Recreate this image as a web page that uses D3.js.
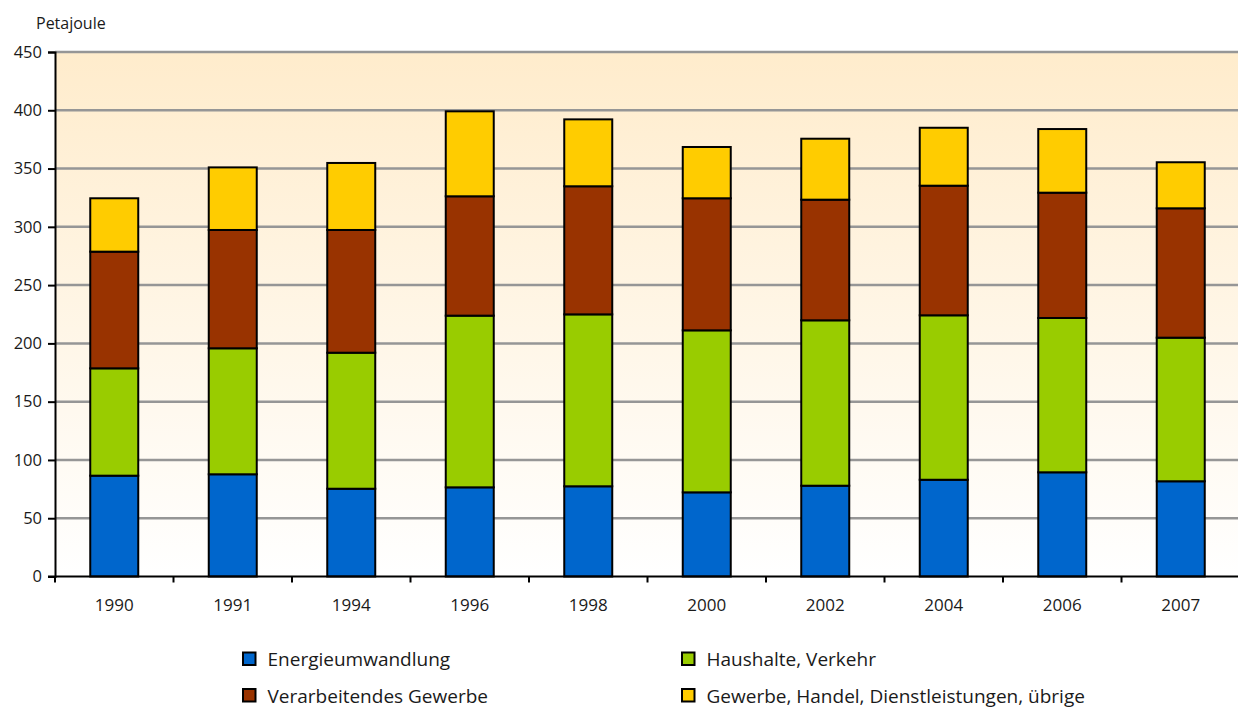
<!DOCTYPE html>
<html>
<head>
<meta charset="utf-8">
<script src="https://cdn.jsdelivr.net/npm/d3@7"></script>
<style>
  html, body { margin: 0; padding: 0; background: #ffffff; }
  svg { display: block; font-family: "Open Sans", "Noto Sans", sans-serif; }
</style>
</head>
<body>
<svg id="chart" width="1238" height="707"></svg>
<script>
// Energy consumption by sector, Petajoule
const years = ["1990", "1991", "1994", "1996", "1998", "2000", "2002", "2004", "2006", "2007"];
const energieumwandlung = [86.5, 87.7, 75.3, 76.5, 77.4, 72.2, 77.9, 83.0, 89.4, 81.7];
const haushalteVerkehr = [92.1, 108.1, 116.7, 147.3, 147.5, 139.0, 141.9, 141.1, 132.4, 123.2];
const verarbeitendesGewerbe = [100.1, 101.5, 105.3, 102.4, 109.9, 113.3, 103.5, 111.2, 107.5, 111.0];
const gewerbeHandel = [45.8, 53.7, 57.5, 72.9, 57.4, 44.0, 52.3, 49.7, 54.6, 39.5];
const seriesNames = ["Energieumwandlung", "Haushalte, Verkehr", "Verarbeitendes Gewerbe", "Gewerbe, Handel, Dienstleistungen, übrige"];
const seriesColors = ["#0066CC", "#99CC00", "#993300", "#FFCC00"];
const yTicks = [0, 50, 100, 150, 200, 250, 300, 350, 400, 450];

const seriesValues = [energieumwandlung, haushalteVerkehr, verarbeitendesGewerbe, gewerbeHandel];
const keys = ["s0", "s1", "s2", "s3"];
const rows = years.map((y, i) => {
  const r = { year: y };
  keys.forEach((k, j) => r[k] = seriesValues[j][i]);
  return r;
});

const svg = d3.select("#chart");
const plot = { left: 55, right: 1240, top: 52, bottom: 576.5 };
const FONT = "'Open Sans', 'Noto Sans', sans-serif";
const TEXT = "#1a1a1a";

const x = d3.scaleBand().domain(years).range([plot.left, plot.right]).paddingInner(0.595).paddingOuter(0.2975);
const xBounds = d3.scaleBand().domain(years).range([plot.left, plot.right]);
const y = d3.scaleLinear().domain([0, 450]).range([plot.bottom, plot.top]);

// background gradient of the plot area
const defs = svg.append("defs");
const grad = defs.append("linearGradient").attr("id", "bg").attr("x1", 0).attr("y1", 0).attr("x2", 0).attr("y2", 1);
grad.append("stop").attr("offset", "0%").attr("stop-color", "#FFECCC");
grad.append("stop").attr("offset", "100%").attr("stop-color", "#FFFFFF");
svg.append("rect")
  .attr("x", plot.left).attr("y", plot.top)
  .attr("width", plot.right - plot.left).attr("height", plot.bottom - plot.top)
  .attr("fill", "url(#bg)");

// horizontal gridlines
svg.append("g").selectAll("line").data(yTicks.filter(d => d > 0)).join("line")
  .attr("x1", plot.left).attr("x2", plot.right)
  .attr("y1", d => y(d)).attr("y2", d => y(d))
  .attr("stroke", "#969696").attr("stroke-width", 2.5);

// stacked bars
const stacked = d3.stack().keys(keys)(rows);
svg.append("g").selectAll("g").data(stacked).join("g")
  .attr("fill", (d, i) => seriesColors[i])
  .selectAll("rect").data(d => d).join("rect")
  .attr("x", d => x(d.data.year))
  .attr("width", x.bandwidth())
  .attr("y", d => y(d[1]))
  .attr("height", d => y(d[0]) - y(d[1]))
  .attr("stroke", "#000").attr("stroke-width", 2);

// y axis
const yAxis = d3.axisLeft(y).tickValues(yTicks).tickSize(7).tickPadding(6);
const gy = svg.append("g").attr("transform", `translate(${plot.left},0)`).call(yAxis);
gy.attr("font-family", FONT).attr("font-size", 16.5);
gy.select(".domain").attr("stroke", "#000").attr("stroke-width", 2);
gy.selectAll(".tick line").attr("stroke", "#000").attr("stroke-width", 2);
gy.selectAll(".tick text").attr("fill", TEXT);

// x axis with ticks at category boundaries
const gx = svg.append("g").attr("transform", `translate(0,${plot.bottom})`);
gx.append("line").attr("x1", plot.left - 7).attr("x2", plot.right)
  .attr("stroke", "#000").attr("stroke-width", 2);
const bounds = years.map(d => xBounds(d));
gx.selectAll(".bt").data(bounds).join("line")
  .attr("x1", d => d).attr("x2", d => d).attr("y1", 0).attr("y2", 6)
  .attr("stroke", "#000").attr("stroke-width", 2);
gx.selectAll("text").data(years).join("text")
  .attr("x", d => xBounds(d) + xBounds.bandwidth() / 2)
  .attr("y", 34.5)
  .attr("text-anchor", "middle")
  .attr("font-size", 17).attr("fill", TEXT)
  .text(d => d);

// unit label
svg.append("text").attr("x", 36).attr("y", 29).attr("font-size", 16).attr("fill", TEXT).text("Petajoule");

// legend
const legendPos = [[243, 659], [682, 659], [243, 695.5], [682, 695.5]];
const lg = svg.append("g").selectAll("g").data([0, 1, 2, 3]).join("g")
  .attr("transform", (d, i) => `translate(${legendPos[i][0]},${legendPos[i][1]})`);
lg.append("rect").attr("x", 0).attr("y", -6.5).attr("width", 12.5).attr("height", 12.5)
  .attr("fill", d => seriesColors[d]).attr("stroke", "#000").attr("stroke-width", 2);
lg.append("text").attr("x", 24.5).attr("y", 7).attr("font-size", 19).attr("fill", TEXT)
  .text(d => seriesNames[d]);
</script>
</body>
</html>
